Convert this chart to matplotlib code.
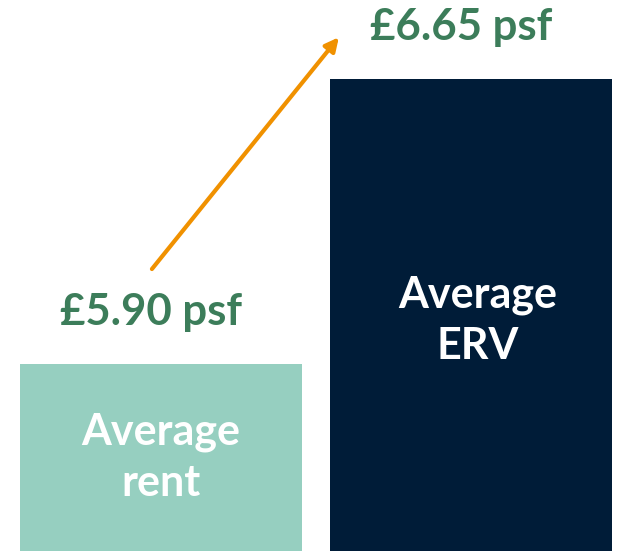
import matplotlib
matplotlib.use("Agg")
from matplotlib import pyplot as plt

categories = ["Average\nrent", "Average\nERV"]
values = [5.90, 6.65]
value_labels = ["£5.90 psf", "£6.65 psf"]
colors = ["#96cfc0", "#001c38"]

plt.rcParams['font.family'] = ['Lato', 'DejaVu Sans']

fig = plt.figure(figsize=(6.21, 5.51), dpi=100)
ax = fig.add_axes([0, 0, 1, 1])

ymin, ymax = 5.408, 6.858
x = list(range(len(values)))
heights = [v - ymin for v in values]
ax.bar(x, heights, bottom=ymin, width=0.91, color=colors)

# small nudges of the in-bar labels (x, y) in points
inner_offsets = [(0, 0), (5, -4)]
for i, v in enumerate(values):
    ax.annotate(value_labels[i], (x[i], v), xytext=(-7, 28), textcoords="offset points",
                ha="center", va="baseline", fontsize=31.5, fontweight="bold", color="#3c7d5a")
    ax.annotate(categories[i], (x[i], (v + ymin) / 2), xytext=inner_offsets[i],
                textcoords="offset points", ha="center", va="center", fontsize=31,
                fontweight="bold", color="white", linespacing=1.35)

# growth arrow
ax.annotate("", xy=(0.574, 6.760), xytext=(-0.029, 6.150),
            arrowprops=dict(arrowstyle="-|>,head_length=0.8,head_width=0.4",
                            color="#f09100", lw=3, shrinkA=0, shrinkB=0))

ax.set_xlim(-0.519, 1.484)
ax.set_ylim(ymin, ymax)
ax.axis("off")
fig.savefig("out.png", dpi=100)
